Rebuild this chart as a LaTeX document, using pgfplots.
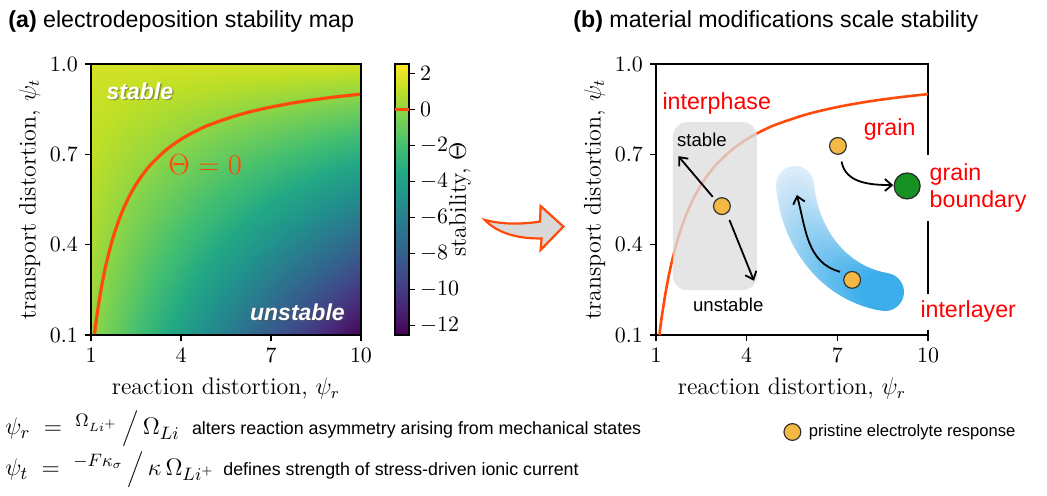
\documentclass[border=0pt]{standalone}
\usepackage{pgfplots}
\usepackage{pgfplotstable}
\pgfplotsset{compat=1.18}
\usepackage{fontspec}
\newfontfamily\arial{Liberation Sans}
\usetikzlibrary{arrows.meta}
\definecolor{ored}{HTML}{FF4A0A}
\definecolor{lblred}{HTML}{FF0000}
\definecolor{ptyellow}{HTML}{F3B944}
\definecolor{ptgreen}{HTML}{179122}
\definecolor{bandlight}{HTML}{DDECF9}
\definecolor{banddark}{HTML}{3AADEA}
\pgfplotsset{colormap={vir}{rgb255=(68,1,84) rgb255=(72,36,117) rgb255=(65,68,135) rgb255=(53,95,141) rgb255=(42,120,142) rgb255=(33,145,140) rgb255=(34,168,132) rgb255=(68,191,112) rgb255=(122,209,81) rgb255=(189,223,38) rgb255=(253,231,37)}}

\pgfplotstableread{
x y t
1 0.1 0.156
2 0.1 -1.248
3 0.1 -2.652
4 0.1 -4.056
5 0.1 -5.46
6 0.1 -6.864
7 0.1 -8.268
8 0.1 -9.672
9 0.1 -11.076
10 0.1 -12.48
1 0.2 0.312
2 0.2 -0.936
3 0.2 -2.184
4 0.2 -3.432
5 0.2 -4.68
6 0.2 -5.928
7 0.2 -7.176
8 0.2 -8.424
9 0.2 -9.672
10 0.2 -10.92
1 0.3 0.468
2 0.3 -0.624
3 0.3 -1.716
4 0.3 -2.808
5 0.3 -3.9
6 0.3 -4.992
7 0.3 -6.084
8 0.3 -7.176
9 0.3 -8.268
10 0.3 -9.36
1 0.4 0.624
2 0.4 -0.312
3 0.4 -1.248
4 0.4 -2.184
5 0.4 -3.12
6 0.4 -4.056
7 0.4 -4.992
8 0.4 -5.928
9 0.4 -6.864
10 0.4 -7.8
1 0.5 0.78
2 0.5 0
3 0.5 -0.78
4 0.5 -1.56
5 0.5 -2.34
6 0.5 -3.12
7 0.5 -3.9
8 0.5 -4.68
9 0.5 -5.46
10 0.5 -6.24
1 0.6 0.936
2 0.6 0.312
3 0.6 -0.312
4 0.6 -0.936
5 0.6 -1.56
6 0.6 -2.184
7 0.6 -2.808
8 0.6 -3.432
9 0.6 -4.056
10 0.6 -4.68
1 0.7 1.092
2 0.7 0.624
3 0.7 0.156
4 0.7 -0.312
5 0.7 -0.78
6 0.7 -1.248
7 0.7 -1.716
8 0.7 -2.184
9 0.7 -2.652
10 0.7 -3.12
1 0.8 1.248
2 0.8 0.936
3 0.8 0.624
4 0.8 0.312
5 0.8 0
6 0.8 -0.312
7 0.8 -0.624
8 0.8 -0.936
9 0.8 -1.248
10 0.8 -1.56
1 0.9 1.404
2 0.9 1.248
3 0.9 1.092
4 0.9 0.936
5 0.9 0.78
6 0.9 0.624
7 0.9 0.468
8 0.9 0.312
9 0.9 0.156
10 0.9 0
1 1.0 1.56
2 1.0 1.56
3 1.0 1.56
4 1.0 1.56
5 1.0 1.56
6 1.0 1.56
7 1.0 1.56
8 1.0 1.56
9 1.0 1.56
10 1.0 1.56
}\thetatable

\pgfplotstableread{
x y
1.1111 0.1
1.15 0.1304
1.2 0.1667
1.3 0.2308
1.4 0.2857
1.5 0.3333
1.65 0.3939
1.8 0.4444
2 0.5
2.25 0.5556
2.5 0.6
2.75 0.6364
3 0.6667
3.5 0.7143
4 0.75
4.5 0.7778
5 0.8
6 0.8333
7 0.8571
8 0.875
9 0.8889
10 0.9
}\curvetable

\pgfplotsset{
  panel/.style={
    scale only axis, width=135pt, height=135.5pt,
    xmin=1, xmax=10, ymin=0.1, ymax=1,
    xtick={1,4,7,10}, ytick={0.1,0.4,0.7,1.0},
    yticklabel style={/pgf/number format/.cd, fixed, fixed zerofill, precision=1},
    tick align=outside, xtick pos=left, ytick pos=left,
    major tick length=3pt,
    tick style={black, line width=0.6pt},
    axis line style={line width=0.6pt},
    ticklabel style={font=\fontsize{10.5}{12}\selectfont},
    label style={font=\fontsize{12}{14}\selectfont},
    xlabel={reaction distortion, $\psi_r$},
    ylabel={transport distortion, $\psi_t$},
    ylabel style={yshift=-2pt},
    xlabel style={yshift=-1pt},
  }
}

\begin{document}
\begin{tikzpicture}
\path[use as bounding box] (0,0) rectangle (523.5pt,248pt);

% titles
\node[anchor=west, inner sep=0pt, font=\arial\fontsize{11.6}{13}\selectfont] at (4pt,237pt) {\textbf{(a)} electrodeposition stability map};
\node[anchor=west, inner sep=0pt, font=\arial\fontsize{11.6}{13}\selectfont] at (286.5pt,237pt) {\textbf{(b)} material modifications scale stability};

% ---------- left panel
\begin{axis}[panel, at={(45.5pt,80.5pt)}, anchor=south west, axis on top,
  colormap name=vir, point meta min=-12.55, point meta max=2.55,
  colorbar,
  colorbar style={at={(parent axis.north east)}, anchor=north west, xshift=8.5pt,
    scale only axis, width=7pt, height=135.5pt,
    ytick={-12,-10,...,2}, tick align=outside, ytick pos=right, yticklabel pos=right,
    major tick length=3pt, tick style={black,line width=0.6pt}, axis line style={line width=0.6pt},
    yticklabel style={font=\fontsize{10.5}{12}\selectfont, xshift=-1pt},
    ylabel={stability, $\Theta$},
    ylabel style={at={(axis description cs:1,0.5)}, anchor=north, yshift=-16.5pt, font=\fontsize{12}{14}\selectfont},
    after end axis/.code={
      \coordinate (cbz) at (axis cs:0,0);
      \coordinate (cbl) at (rel axis cs:0,0);
      \coordinate (cbr) at (rel axis cs:1,0);
      \draw[ored, line width=1.5pt] (cbl |- cbz) -- (cbr |- cbz);
    }
  }]
\addplot[surf, shader=interp, mesh/cols=10, point meta=explicit] table[x=x,y=y,meta=t]{\thetatable};
\addplot[ored, line width=1.6pt, smooth] table[x=x,y=y]{\curvetable};
\node[text=black!70, opacity=0.5, font=\arial\bfseries\itshape\fontsize{11.5}{13}\selectfont] at (axis cs:2.63,0.911) [xshift=0.7pt,yshift=-0.7pt] {stable};
\node[text=white, font=\arial\bfseries\itshape\fontsize{11.5}{13}\selectfont] at (axis cs:2.63,0.911) {stable};
\node[text=black!70, opacity=0.5, font=\arial\bfseries\itshape\fontsize{11.5}{13}\selectfont] at (axis cs:7.88,0.177) [xshift=0.7pt,yshift=-0.7pt] {unstable};
\node[text=white, font=\arial\bfseries\itshape\fontsize{11.5}{13}\selectfont] at (axis cs:7.88,0.177) {unstable};
\node[text=ored, font=\fontsize{13.5}{15}\selectfont] at (axis cs:4.8,0.665) {$\Theta = 0$};
\end{axis}

% ---------- blue band (decoration behind right panel)
\path (397.5pt,155.5pt) .. controls (399.8pt,128.7pt) and (417.2pt,106.1pt) .. (442.5pt,102pt)
  \foreach \k [evaluate=\k as \p using \k/30] in {0,...,30} { coordinate[pos=\p] (b\k) };
\foreach \k [evaluate=\k as \c using 100*\k/29, evaluate=\k as \kn using int(\k+1)] in {0,...,29} {
  \draw[line width=19pt, line cap=round, banddark!\c!bandlight] (b\k) -- (b\kn);
}

% ---------- right panel
\begin{axis}[panel, at={(328pt,80.5pt)}, anchor=south west, width=136pt, clip=false,
  legend style={at={(0.447,-0.358)}, anchor=west, draw=none, fill=none,
    font=\arial\fontsize{8.3}{10}\selectfont},
  legend cell align=left]
\addplot[ored, line width=1.3pt, smooth, forget plot] table[x=x,y=y]{\curvetable};
\fill[black!13, fill opacity=0.78, rounded corners=7pt] (axis cs:1.56,0.249) rectangle (axis cs:4.34,0.807);
\draw[line width=0.9pt, -{Straight Barb[length=3.5pt,width=6pt]}] (axis cs:2.876,0.559) -- (axis cs:1.738,0.694);
\draw[line width=0.9pt, -{Straight Barb[length=3.5pt,width=6pt]}] (axis cs:3.43,0.482) -- (axis cs:4.24,0.280);
\draw[line width=0.9pt, -{Straight Barb[length=3.5pt,width=6pt]}] (axis cs:7.14,0.676) to[out=-80,in=180] (axis cs:8.85,0.598);
\draw[line width=0.9pt, -{Straight Barb[length=3.5pt,width=6pt]}] (axis cs:7.09,0.31) to[out=165,in=-75] (axis cs:5.66,0.565);
\addplot[only marks, mark=*, mark size=6.5pt, mark options={fill=ptgreen, draw=black!85, line width=0.6pt}, forget plot] coordinates {(9.31,0.595)};
\addplot[only marks, mark=*, mark size=4.2pt, mark options={fill=ptyellow, draw=black!80, line width=0.6pt}] coordinates {(3.18,0.528) (7.02,0.728) (7.49,0.283)};
\addlegendentry{\hspace{2pt}pristine electrolyte response}
\node[text=lblred, font=\arial\fontsize{11.6}{13}\selectfont] at (axis cs:3.01,0.870) {interphase};
\node[font=\arial\fontsize{9.3}{11}\selectfont] at (axis cs:2.52,0.748) {stable};
\node[font=\arial\fontsize{9.3}{11}\selectfont] at (axis cs:3.39,0.200) {unstable};
\node[text=lblred, font=\arial\fontsize{11.6}{13}\selectfont] at (axis cs:8.73,0.781) {grain};
\coordinate (gbpos) at (axis cs:9.878,0.588);
\coordinate (ilpos) at (axis cs:11.33,0.177);
\end{axis}
\node[anchor=west, fill=white, inner xsep=2.5pt, inner ysep=4pt, align=left, text=lblred, font=\arial\fontsize{11.6}{13.8}\selectfont] at (gbpos) {grain\\boundary};
\node[fill=white, inner xsep=2pt, inner ysep=3.5pt, text=lblred, font=\arial\fontsize{11.6}{13}\selectfont] at (ilpos) {interlayer};

% ---------- block arrow between panels
\draw[ored, line width=1.1pt, fill=black!15, line join=miter]
  (242.5pt,138pt) .. controls (252pt,135.5pt) and (262pt,136pt) .. (270pt,137.2pt)
  -- (270.3pt,145pt) -- (281.7pt,134.7pt) -- (270.3pt,123pt) -- (270.8pt,128.8pt)
  .. controls (258pt,128.5pt) and (248pt,132pt) .. cycle;

% ---------- definitions at bottom
\node[anchor=base west, inner sep=0pt] at (2.5pt,30.5pt) {\fontsize{13}{15}\selectfont $\psi_r \;=\; {}^{\Omega_{Li^+}}\,\Big/\,\Omega_{Li}$};
\node[anchor=base west, inner sep=0pt, font=\arial\fontsize{8.9}{10}\selectfont] at (95.8pt,30.5pt) {alters reaction asymmetry arising from mechanical states};
\node[anchor=base west, inner sep=0pt] at (2.5pt,10.2pt) {\fontsize{13}{15}\selectfont $\psi_t \;=\; {}^{-F\kappa_\sigma}\,\Big/\,\kappa\,\Omega_{Li^+}$};
\node[anchor=base west, inner sep=0pt, font=\arial\fontsize{8.9}{10}\selectfont] at (111.5pt,10.2pt) {defines strength of stress-driven ionic current};
\end{tikzpicture}
\end{document}
